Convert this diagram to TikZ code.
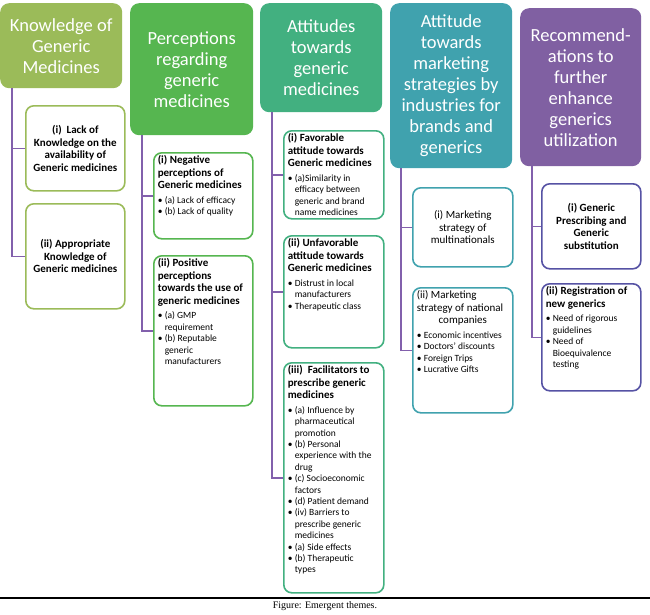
\documentclass[tikz,border=0pt]{standalone}
\usepackage{fontspec}
\setmainfont{Carlito}
\newfontfamily\capfont{Liberation Serif}
\usepackage{tikz}
\usetikzlibrary{calc,positioning}

\definecolor{kgreen}{RGB}{155,187,89}
\definecolor{pgreen}{RGB}{86,182,80}
\definecolor{agreen}{RGB}{66,176,128}
\definecolor{mteal}{RGB}{64,162,174}
\definecolor{rpurple}{RGB}{128,96,162}
\definecolor{rblue}{RGB}{86,82,164}
\definecolor{linkc}{RGB}{130,96,172}

\newcommand{\titlefont}{\fontsize{11}{12.5}\selectfont\bfseries}
\newcommand{\plainfont}{\fontsize{11}{12.5}\selectfont}
\newcommand{\itemfont}{\fontsize{9.5}{11.4}\selectfont}
\newcommand{\bitem}[1]{\par\hangindent=7pt\hangafter=1\noindent\makebox[7pt][l]{\textbullet}#1}

\tikzset{headbox/.style={rectangle, rounded corners=9pt, fill=#1, text=white, anchor=north west,
    inner sep=0pt, align=center, font=\fontsize{18.5}{21}\selectfont}}
\tikzset{subbox/.style={rectangle, rounded corners=8pt, draw=#1, line width=1.6pt, fill=white,
    anchor=north west, inner sep=0pt, minimum width=99pt}}
\tikzstyle{linkline}=[draw=linkc, line width=1.6pt]

\begin{document}
\begin{tikzpicture}[x=1pt, y=-1pt]
\useasboundingbox (0,0) rectangle (650,614);

% theme headers
\node[headbox=kgreen, minimum width=122pt, minimum height=85pt] (h1) at (0,3) {Knowledge of\\ Generic\\ Medicines};
\node[headbox=pgreen, minimum width=123pt, minimum height=132pt] (h2) at (130,3) {Perceptions\\ regarding\\ generic\\ medicines};
\node[headbox=agreen, minimum width=122pt, minimum height=109pt] (h3) at (260,3) {Attitudes\\ towards\\ generic\\ medicines};
\node[headbox=mteal, minimum width=122pt, minimum height=165pt] (h4) at (390,3) {Attitude\\ towards\\ marketing\\ strategies by\\ industries for\\ brands and\\ generics};
\node[headbox=rpurple, minimum width=121pt, minimum height=158pt] (h5) at (520,8) {Recommend-\\ ations to\\ further\\ enhance\\ generics\\ utilization};

% knowledge
\node[subbox=kgreen, minimum height=85pt] (b11) at (25,105)
  {\begin{minipage}[c][79pt][c]{91pt}\centering\titlefont (i)\ \ Lack of\\ Knowledge on the\\ availability of\\ Generic medicines\end{minipage}};
\node[subbox=kgreen, minimum height=105pt] (b12) at (25,203)
  {\begin{minipage}[c][99pt][c]{91pt}\centering\titlefont (ii) Appropriate\\ Knowledge of\\ Generic medicines\end{minipage}};

% perceptions
\node[subbox=pgreen, minimum height=86pt] (b21) at (153,152)
  {\begin{minipage}[c][80pt][t]{91pt}\raggedright
   {\titlefont (i) Negative\\ perceptions of\\ Generic medicines\par}\vspace{3pt}
   \itemfont\bitem{(a) Lack of efficacy}\bitem{(b) Lack of quality}\end{minipage}};
\node[subbox=pgreen, minimum height=150pt] (b22) at (153,255)
  {\begin{minipage}[c][144pt][t]{91pt}\raggedright
   {\titlefont (ii) Positive\\ perceptions\\ towards the use of\\ generic medicines\par}\vspace{3pt}
   \itemfont\bitem{(a) GMP\newline requirement}\bitem{(b) Reputable\newline generic\newline manufacturers}\end{minipage}};

% attitudes
\node[subbox=agreen, minimum width=100pt, minimum height=88pt] (b31) at (283,130)
  {\begin{minipage}[c][82pt][t]{92pt}\raggedright
   {\titlefont (i) Favorable\\ attitude towards\\ Generic medicines\par}\vspace{3pt}
   \itemfont\bitem{(a)Similarity in\newline efficacy between\newline generic and brand\newline name medicines}\end{minipage}};
\node[subbox=agreen, minimum width=100pt, minimum height=112pt] (b32) at (283,235)
  {\begin{minipage}[c][106pt][t]{92pt}\raggedright
   {\titlefont (ii) Unfavorable\\ attitude towards\\ Generic medicines\par}\vspace{3pt}
   \itemfont\bitem{Distrust in local\newline manufacturers}\bitem{Therapeutic class}\end{minipage}};
\node[subbox=agreen, minimum width=100pt, minimum height=230pt] (b33) at (283,362)
  {\begin{minipage}[c][224pt][t]{92pt}\raggedright
   {\titlefont (iii)\ \ Facilitators to\\ prescribe generic\\ medicines\par}\vspace{3pt}
   \itemfont\bitem{(a) Influence by\newline pharmaceutical\newline promotion}\bitem{(b) Personal\newline experience with the\newline drug}%
   \bitem{(c) Socioeconomic\newline factors}\bitem{(d) Patient demand}\bitem{(iv) Barriers to\newline prescribe generic\newline medicines}%
   \bitem{(a) Side effects}\bitem{(b) Therapeutic\newline types}\end{minipage}};

% marketing
\node[subbox=mteal, minimum width=100pt, minimum height=79pt] (b41) at (412,187)
  {\begin{minipage}[c][73pt][c]{92pt}\centering\plainfont (i) Marketing\\ strategy of\\ multinationals\end{minipage}};
\node[subbox=mteal, minimum width=100pt, minimum height=125pt] (b42) at (412,287)
  {\begin{minipage}[c][119pt][t]{92pt}\raggedright
   {\plainfont (ii) Marketing\\ strategy of national\par\centering companies\par}\vspace{3pt}
   \itemfont\bitem{Economic incentives}\bitem{Doctors' discounts}\bitem{Foreign Trips}\bitem{Lucrative Gifts}\end{minipage}};

% recommendations
\node[subbox=rblue, minimum height=85pt] (b51) at (541,183)
  {\begin{minipage}[c][79pt][c]{91pt}\centering\titlefont (i) Generic\\ Prescribing and\\ Generic\\ substitution\end{minipage}};
\node[subbox=rblue, minimum height=107pt] (b52) at (541,283)
  {\begin{minipage}[c][101pt][t]{91pt}\raggedright
   {\titlefont (ii) Registration of\\ new generics\par}\vspace{3pt}
   \itemfont\bitem{Need of rigorous\newline guidelines}\bitem{Need of\newline Bioequivalence\newline testing}\end{minipage}};

% branches
\coordinate (v1) at ($(h1.south west)+(12,0)$);
\coordinate (v2) at ($(h2.south west)+(12,0)$);
\coordinate (v3) at ($(h3.south west)+(12,0)$);
\coordinate (v4) at ($(h4.south west)+(11,0)$);
\coordinate (v5) at ($(h5.south west)+(12,0)$);
\path[linkline] (v1) |- (b11.west) (v1) |- (b12.west);
\path[linkline] (v2) |- (b21.west) (v2) |- (b22.west);
\path[linkline] (v3) |- (b31.west) (v3) |- (b32.west) (v3) |- (b33.west);
\path[linkline] (v4) |- (b41.west) (v4) |- (b42.west);
\path[linkline] (v5) |- (b51.west) (v5) |- (b52.west);

% caption
\coordinate (rl) at (0,598);
\coordinate (rr) at (650,598);
\draw[line width=1.5pt] (rl) -- (rr);
\node[font=\capfont\fontsize{10}{12}\selectfont] (cap) at (325,606) {Figure: Emergent themes.};
\end{tikzpicture}
\end{document}
